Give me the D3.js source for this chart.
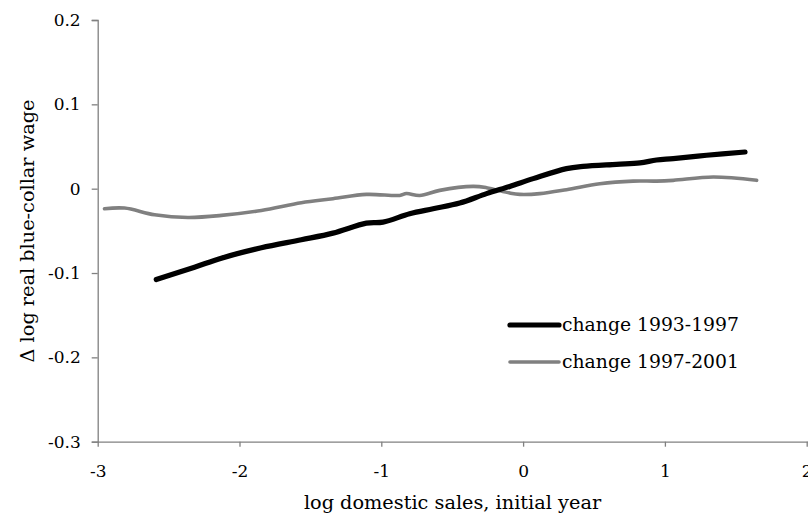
<!DOCTYPE html>
<html>
<head>
<meta charset="utf-8">
<script src="https://cdn.jsdelivr.net/npm/d3@7"></script>
<style>
  html, body { margin: 0; padding: 0; background: #fff; }
  svg { display: block; }
  text { font-family: "DejaVu Serif", "Liberation Serif", serif; fill: #000; }
</style>
</head>
<body>
<svg id="chart" width="808" height="520"></svg>
<script>
// Smoothed wage change by initial-year domestic sales, two periods
const sales9397 = [-2.587, -2.317, -2.128, -1.846, -1.564, -1.341, -1.105, -0.988, -0.800, -0.635,
                   -0.447, -0.258, -0.094, 0.071, 0.306, 0.423, 0.659, 0.824, 0.941, 1.059, 1.294, 1.565];
const wage9397  = [-0.1077, -0.0931, -0.0824, -0.0701, -0.0606, -0.0527, -0.0409, -0.0397, -0.0297, -0.0238,
                   -0.0171, -0.0059, 0.0027, 0.0119, 0.0238, 0.0265, 0.0289, 0.0305, 0.0340, 0.0356, 0.0396, 0.0435];

const sales9701 = [-2.952, -2.811, -2.599, -2.364, -2.128, -1.846, -1.564, -1.341, -1.105, -0.870,
                   -0.823, -0.729, -0.588, -0.353, -0.258, -0.094, -0.023, 0.118, 0.306, 0.541,
                   0.776, 0.941, 1.059, 1.341, 1.647];
const wage9701  = [-0.0238, -0.0230, -0.0309, -0.0341, -0.0317, -0.0258, -0.0166, -0.0119, -0.0068, -0.0080,
                   -0.0058, -0.0080, -0.0020, 0.0027, 0.0012, -0.0052, -0.0068, -0.0059, -0.0012, 0.0059,
                   0.0090, 0.0090, 0.0099, 0.0138, 0.0099];

const seriesNames = ["change 1993-1997", "change 1997-2001"];
const xTicks = [-3, -2, -1, 0, 1, 2];
const yTicks = [-0.3, -0.2, -0.1, 0, 0.1, 0.2];

const svg = d3.select("#chart");
const plotLeft = 97.7, plotRight = 806.7, plotTop = 20, plotBottom = 441.7;
const tickFont = 17, titleFont = 19.3, legendFont = 18.8;

const x = d3.scaleLinear().domain([-3, 2]).range([plotLeft, plotRight]);
const y = d3.scaleLinear().domain([-0.3, 0.2]).range([plotBottom, plotTop]);

const axisColor = "#808080";
// plain hyphen for negative numbers
const hyphen = s => s.replace("\u2212", "-");

// Y axis
const yAxis = svg.append("g")
  .attr("transform", `translate(${plotLeft},0)`)
  .call(d3.axisLeft(y).tickValues(yTicks).tickSize(6).tickPadding(11)
        .tickFormat(d => d === 0 ? "0" : hyphen(d3.format(".1f")(d))));
// X axis
const xAxis = svg.append("g")
  .attr("transform", `translate(0,${plotBottom})`)
  .call(d3.axisBottom(x).tickValues(xTicks).tickSize(5).tickPadding(18)
        .tickFormat(d => hyphen(d3.format("d")(d))));

for (const g of [xAxis, yAxis]) {
  g.select(".domain").attr("stroke", axisColor).attr("stroke-width", 1.3);
  g.selectAll(".tick line").attr("stroke", axisColor).attr("stroke-width", 1.3);
  g.selectAll(".tick text").attr("font-size", tickFont).attr("font-family", null).attr("fill", "#000");
}
// x axis line continues to the frame edge
xAxis.select(".domain").attr("d", `M${plotLeft},0.5H808`);

const line = d3.line()
  .x(d => x(d[0])).y(d => y(d[1]))
  .curve(d3.curveCatmullRom.alpha(0.5));

svg.append("path")
  .datum(sales9701.map((s, i) => [s, wage9701[i]]))
  .attr("d", line).attr("fill", "none")
  .attr("stroke", "#808080").attr("stroke-width", 3.6)
  .attr("stroke-linecap", "round").attr("stroke-linejoin", "round");

svg.append("path")
  .datum(sales9397.map((s, i) => [s, wage9397[i]]))
  .attr("d", line).attr("fill", "none")
  .attr("stroke", "#000").attr("stroke-width", 5.2)
  .attr("stroke-linecap", "round").attr("stroke-linejoin", "round");

// Axis titles
svg.append("text")
  .attr("x", (303 + 602) / 2).attr("y", 509)
  .attr("text-anchor", "middle").attr("font-size", titleFont)
  .text("log domestic sales, initial year");

svg.append("text")
  .attr("transform", "translate(34,231) rotate(-90)")
  .attr("text-anchor", "middle").attr("font-size", titleFont)
  .text("\u0394 log real blue-collar wage");

// Legend
const legend = svg.append("g");
const legendRows = [
  { name: seriesNames[0], color: "#000", width: 5.2, y: 325 },
  { name: seriesNames[1], color: "#808080", width: 3.6, y: 362 }
];
legendRows.forEach(r => {
  legend.append("line")
    .attr("x1", 510).attr("x2", 559).attr("y1", r.y).attr("y2", r.y)
    .attr("stroke", r.color).attr("stroke-width", r.width).attr("stroke-linecap", "round");
  legend.append("text")
    .attr("x", 562).attr("y", r.y + 6).attr("font-size", legendFont)
    .text(r.name);
});
</script>
</body>
</html>
